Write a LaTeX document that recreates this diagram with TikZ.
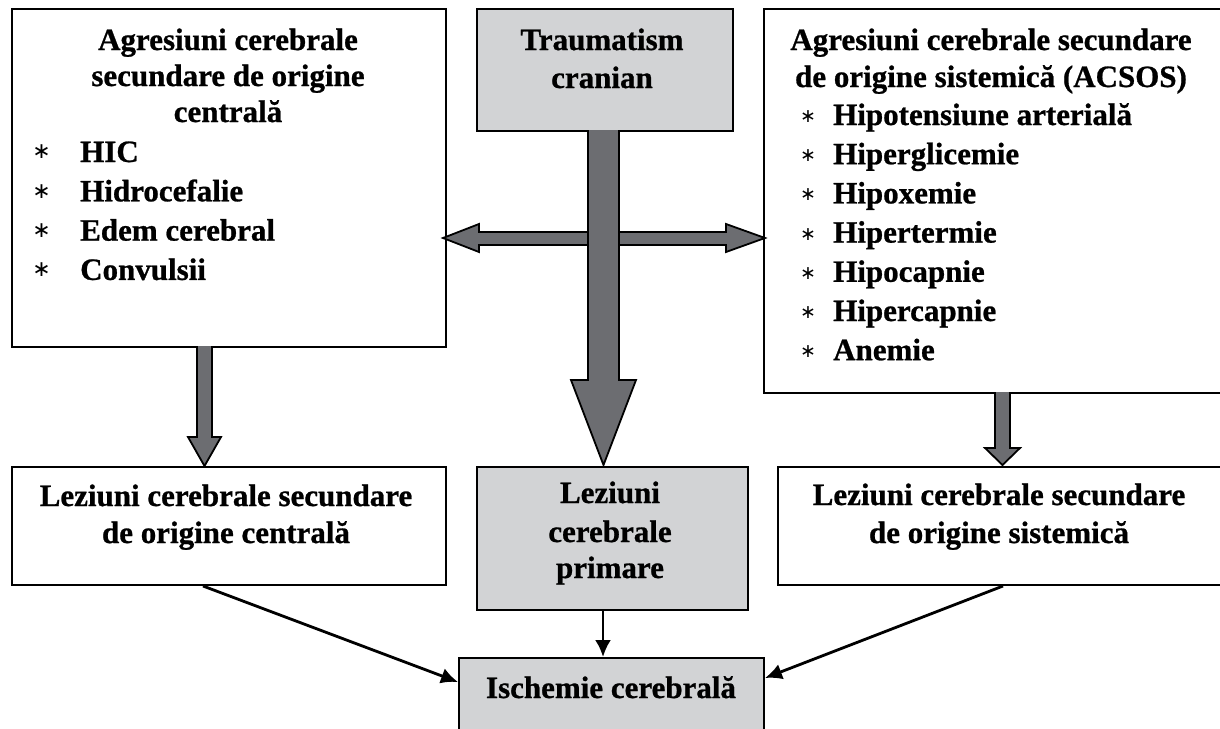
\documentclass[tikz,border=0pt]{standalone}
\usepackage{fontspec}
\setmainfont{Liberation Serif}[BoldFeatures={FakeBold=0.8}]
\newfontfamily\symfnt{DejaVu Sans}
\usetikzlibrary{arrows.meta,calc}
\definecolor{boxgray}{RGB}{210,211,213}
\definecolor{arrgray}{RGB}{108,109,113}
\begin{document}
\begin{tikzpicture}[x=1pt,y=-1pt,
  box/.style={draw=black, line width=2pt, fill=white, anchor=north west, inner sep=0pt},
  gbox/.style={box, fill=boxgray},
  txt/.style={font=\fontsize{31}{36}\selectfont\bfseries, anchor=base, inner sep=0pt},
  ltxt/.style={txt, anchor=base west},
  starA/.style={anchor=center, inner sep=0pt, font=\symfnt\fontsize{22}{22}\selectfont},
  starB/.style={anchor=center, inner sep=0pt, font=\symfnt\fontsize{19}{19}\selectfont},
  fat/.style={draw=black, line width=1.8pt, fill=arrgray, line join=miter},
  thin/.style={draw=black, line width=2.8pt, -{Latex[length=17pt,width=16pt]}}
]
\useasboundingbox (0,0) rectangle (1220,728);
\clip (0,0) rectangle (1220,728);

% boxes
\node[box,  minimum width=434pt, minimum height=338pt] (agc) at (11,8) {};
\node[gbox, minimum width=256pt, minimum height=122pt] (tc)  at (476,8) {};
\node[box,  minimum width=470pt, minimum height=384pt] (ags) at (763,8) {};
\node[box,  minimum width=434pt, minimum height=118pt] (lc)  at (11,466) {};
\node[gbox, minimum width=271pt, minimum height=143pt] (lp)  at (476,466) {};
\node[box,  minimum width=460pt, minimum height=118pt] (ls)  at (777,466) {};
\node[gbox, minimum width=305pt, minimum height=100pt] (isc) at (458,657) {};

% fat arrows
\draw[fat] (479,232) -- (479,224) -- (443,238) -- (479,252) -- (479,245)
  -- (726,245) -- (726,252) -- (765,238) -- (726,224) -- (726,232) -- cycle;
\draw[fat] (588,130) -- (588,380) -- (571,380) -- (603.5,465) -- (636,380)
  -- (619,380) -- (619,130);
\draw[fat] (197,346) -- (197,437) -- (188,437) -- (204.5,466) -- (221,437)
  -- (212,437) -- (212,346);
\draw[fat] (995,392) -- (995,448) -- (985,448) -- (1002.5,465) -- (1020,448)
  -- (1010,448) -- (1010,392);

% thin arrows
\coordinate (lcs) at ($(lc.south west)+(192,0)$);
\coordinate (lss) at ($(ls.south west)+(226,0)$);
\coordinate (iw) at ($(isc.north west)+(0,25)$);
\coordinate (ie) at ($(isc.north east)+(0,21)$);
\coordinate (ps) at ($(lp.south west)+(127,0)$);
\coordinate (pn) at ($(isc.north west)+(145,0)$);
\draw[thin] (lcs) -- (iw);
\draw[thin] (ps) -- (pn);
\draw[thin] (lss) -- (ie);

% texts: left top
\node[txt] (a1) at (228,50) {Agresiuni cerebrale};
\node[txt] (a2) at (228,86) {secundare de origine};
\node[txt] (a3) at (228,122) {centrală};
\foreach \t [count=\i] in {HIC,Hidrocefalie,Edem cerebral,Convulsii}{
  \node[starA] (as\i) at (41.5,{152+39.3*(\i-1)}) {∗};
  \node[ltxt] (at\i) at (80,{162+39.3*(\i-1)}) {\t};
}
% centre top
\node[txt] (t1) at (602,50) {Traumatism};
\node[txt] (t2) at (602,88) {cranian};
% right top
\node[txt] (b1) at (991,50) {Agresiuni cerebrale secundare};
\node[txt] (b2) at (991,87) {de origine sistemică (ACSOS)};
\foreach \t [count=\i] in {Hipotensiune arterială,Hiperglicemie,Hipoxemie,Hipertermie,Hipocapnie,Hipercapnie,Anemie}{
  \node[starB] (bs\i) at (808,{116.5+39.2*(\i-1)}) {∗};
  \node[ltxt] (bt\i) at (833,{125+39.2*(\i-1)}) {\t};
}
% bottom row
\node[txt] (c1) at (226,506) {Leziuni cerebrale secundare};
\node[txt] (c2) at (226,543) {de origine centrală};
\node[txt] (p1) at (610,503) {Leziuni};
\node[txt] (p2) at (610,542) {cerebrale};
\node[txt] (p3) at (610,578) {primare};
\node[txt] (d1) at (999,505) {Leziuni cerebrale secundare};
\node[txt] (d2) at (999,543) {de origine sistemică};
\node[txt] (i1) at (611,698) {Ischemie cerebrală};
\end{tikzpicture}
\end{document}
